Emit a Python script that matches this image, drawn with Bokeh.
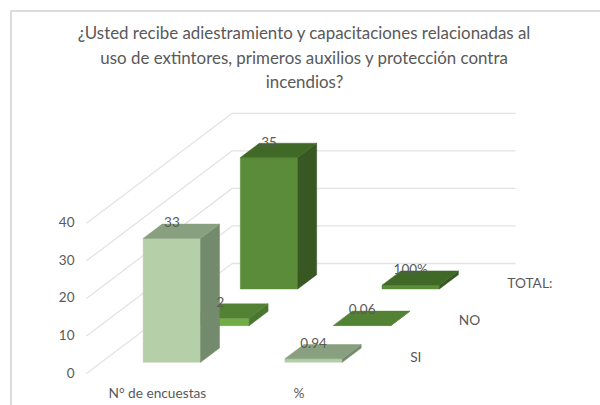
from bokeh.plotting import figure
from bokeh.models import Range1d
from bokeh.core.properties import value
from bokeh.embed import file_html
from bokeh.resources import INLINE

TITLE_LINES = ["¿Usted recibe adiestramiento y capacitaciones relacionadas al",
               "uso de extintores, primeros auxilios y protección contra",
               "incendios?"]
categories = ["N° de encuestas", "%"]
series_names = ["SI", "NO", "TOTAL:"]
si_values = [33, 0.94]
no_values = [2, 0.06]
total_values = [35, 1.0]
si_labels = ["33", "0.94"]
no_labels = ["2", "0.06"]
total_labels = ["35", "100%"]
y_ticks = [0, 10, 20, 30, 40]

# colours per series: front, side, top
COLORS = [("#b5cfa9", "#748a6c", "#88a07f"),
          ("#70ad47", "#4a7630", "#548235"),
          ("#5b8c3a", "#385723", "#406827")]
TEXT = "#595959"
GRID = "#e3e3e3"
FONT = value("Lato")

# oblique projection of the 3D chart onto the page
ORIGIN_X, ORIGIN_Y = 86.0, 373.0
CAT_W = 141.7
DEPTH_DX, DEPTH_DY = 48.57, 36.67
PX_PER_UNIT = 3.755
BAR_GAP = 0.2955      # fraction of category width left of the bar
BAR_W = 0.405         # fraction of category width
BAR_DEPTH_GAP = 0.305 # fraction of depth cell before the bar
BAR_DEPTH = 0.39      # fraction of depth cell


def project(cat, depth, val):
    x = ORIGIN_X + cat * CAT_W + depth * DEPTH_DX
    y = ORIGIN_Y - val * PX_PER_UNIT - depth * DEPTH_DY
    return x, y


p = figure(width=600, height=405, output_backend="svg", toolbar_location=None,
           x_range=Range1d(0, 600), y_range=Range1d(405, 0),
           min_border=0, outline_line_color=None, background_fill_color="white",
           border_fill_color="white", x_axis_type="linear")
p.axis.visible = False
p.grid.visible = False

# chart frame
p.line([10.5, 10.5, 600], [405, 10.5, 10.5], line_color="#dcdcdc", line_width=2)

# gridlines: floor/side wall diagonal, then back wall
for t in y_ticks:
    a = project(0, 0, t)
    b = project(0, 3, t)
    c = project(2, 3, t)
    p.line([a[0], b[0], c[0]], [a[1], b[1], c[1]], line_color=GRID, line_width=1.3)

# tick labels
for t in y_ticks:
    x, y = project(0, 0, t)
    p.text([x - 12], [y - 1], text=[str(t)], text_font=FONT, text_font_size="13.5px",
           text_color=TEXT, text_align="right", text_baseline="middle")

all_values = [si_values, no_values, total_values]
all_labels = [si_labels, no_labels, total_labels]


def draw_bar(cat, ser, val, cols):
    front, side, top = cols
    x0 = cat + BAR_GAP
    x1 = x0 + BAR_W
    d0 = ser + BAR_DEPTH_GAP
    d1 = d0 + BAR_DEPTH
    faces = [
        ([(x0, d0, 0), (x1, d0, 0), (x1, d0, val), (x0, d0, val)], front),
        ([(x1, d0, 0), (x1, d1, 0), (x1, d1, val), (x1, d0, val)], side),
        ([(x0, d0, val), (x1, d0, val), (x1, d1, val), (x0, d1, val)], top),
    ]
    for pts, col in faces:
        xy = [project(*q) for q in pts]
        p.patch([q[0] for q in xy], [q[1] for q in xy], fill_color=col,
                line_color=col, line_width=0.5)


for ser in [2, 1, 0]:
    for cat in [1, 0]:
        draw_bar(cat, ser, all_values[ser][cat], COLORS[ser])

# value labels, on top of every bar
for ser in [2, 1, 0]:
    for cat in [0, 1]:
        x, y = project(cat + BAR_GAP + BAR_W / 2, ser + BAR_DEPTH_GAP, all_values[ser][cat])
        p.text([x], [y - 16], text=[all_labels[ser][cat]], text_font=FONT,
               text_font_size="13.5px", text_color=TEXT, text_align="center",
               text_baseline="middle")

# category labels
for i, name in enumerate(categories):
    x, _ = project(i + 0.5, 0, 0)
    p.text([x], [392], text=[name], text_font=FONT, text_font_size="13.7px",
           text_color=TEXT, text_align="center", text_baseline="middle")

# series labels
for i, name in enumerate(series_names):
    x, y = project(2, i + 0.5, 0)
    p.text([x + 16], [y + 1], text=[name], text_font=FONT, text_font_size="13.7px",
           text_color=TEXT, text_align="left", text_baseline="middle")

# title
for i, line in enumerate(TITLE_LINES):
    p.text([304], [32 + i * 24.7], text=[line], text_font=FONT, text_font_size="16.9px",
           text_color=TEXT, text_align="center", text_baseline="middle")

open("out.html", "w").write(file_html(p, INLINE))
